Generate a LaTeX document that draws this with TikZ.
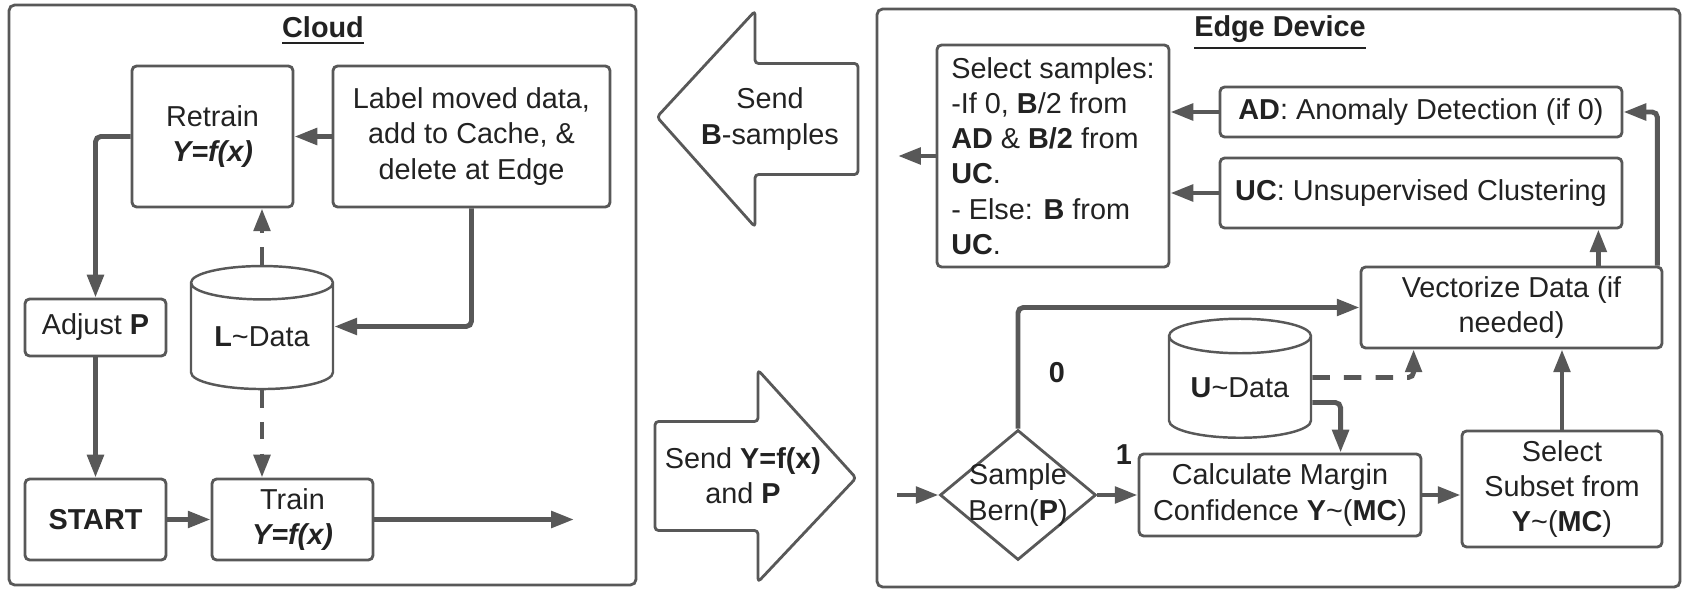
\documentclass[tikz,border=0pt]{standalone}
\usepackage{fontspec}
\setmainfont{Liberation Sans}
\usetikzlibrary{calc,shapes.geometric,arrows.meta}

\definecolor{linegray}{RGB}{88,88,88}
\definecolor{inkgray}{RGB}{34,34,34}

\begin{document}
\begin{tikzpicture}[font=\fontsize{8.2}{10}\selectfont, text=inkgray,
        box/.style={draw=linegray, line width=0.8pt, rounded corners=1.3pt, align=center, inner sep=0pt},
        frame/.style={draw=linegray, line width=0.8pt, rounded corners=1.6pt},
        db/.style={cylinder, shape border rotate=90, aspect=0.35, draw=linegray, line width=0.7pt, inner sep=0pt},
        decision/.style={diamond, draw=linegray, line width=0.8pt, inner sep=0pt},
        flow/.style={draw=linegray, line width=1.4pt, rounded corners=1.5pt, -{Triangle[length=6.5pt,width=4.6pt]}},
        dflow/.style={flow, dash pattern=on 5pt off 4pt},
        bigarrow/.style={draw=linegray, line width=0.8pt, rounded corners=1pt, line join=round}]
        \useasboundingbox (0,0) rectangle (16.82,-5.89);

        % Cloud side
        \draw [frame] (0.09,-0.05) rectangle (6.36,-5.85);
        \node (cloudtitle) at (3.23,-0.31) {\textbf{\underline{Cloud}}};
        \node (retrain) at (2.125,-1.365) [box, minimum width=1.61cm, minimum height=1.41cm] {Retrain\\\textbf{\textit{Y=f(x)}}};
        \node (label) at (4.715,-1.365) [box, minimum width=2.77cm, minimum height=1.41cm] {Label moved data,\\add to Cache, \&\\delete at Edge};
        \node (ldata) at (2.62,-3.365) [db, minimum width=1.42cm, minimum height=1.23cm] {\textbf{L}\textasciitilde Data};
        \node (adjust) at (0.955,-3.275) [box, minimum width=1.41cm, minimum height=0.57cm] {Adjust \textbf{P}};
        \node (start) at (0.955,-5.195) [box, minimum width=1.41cm, minimum height=0.81cm] {\textbf{START}};
        \node (train) at (2.925,-5.195) [box, minimum width=1.61cm, minimum height=0.81cm] {Train\\\textbf{\textit{Y=f(x)}}};
        \coordinate (trainout) at (5.74,-5.195);

        \draw [flow] (label.west) -- (retrain.east);
        \draw [flow] (retrain.west) -| (adjust.north);
        \draw [flow] (adjust) -- (start);
        \draw [flow] (start) -- (train);
        \draw [flow] (train) -- (trainout);
        \draw [flow] (label.south) |- ($(ldata.east)+(0,.1)$);
        \draw [dflow] (ldata.top) -- (ldata.top |- retrain.south);
        \draw [dflow] (ldata.bottom) -- (ldata.bottom |- train.north);

        % the two transfers
        \node (sendb) at (7.70,-1.19) [align=center] {Send\\\textbf{B}-samples};
        \draw [bigarrow] ($(sendb)+(-1.13,.02)$) -- ($(sendb)+(-.15,1.08)$) -- ($(sendb)+(-.15,.555)$) -- ($(sendb)+(.88,.555)$)
            -- ($(sendb)+(.88,-.555)$) -- ($(sendb)+(-.15,-.555)$) -- ($(sendb)+(-.15,-1.08)$) -- cycle;
        \node (sendf) at (7.43,-4.76) [align=center] {Send \textbf{Y=f(x)}\\and \textbf{P}};
        \draw [bigarrow] ($(sendf)+(1.13,-.02)$) -- ($(sendf)+(.15,1.06)$) -- ($(sendf)+(.15,.545)$) -- ($(sendf)+(-.88,.545)$)
            -- ($(sendf)+(-.88,-.545)$) -- ($(sendf)+(.15,-.545)$) -- ($(sendf)+(.15,-1.06)$) -- cycle;

        % Edge side
        \draw [frame] (8.77,-0.09) rectangle (16.80,-5.87);
        \node (edgetitle) at (12.80,-0.33) {\textbf{\underline{Edge Device}}};
        \node (samples) at (10.53,-1.56) [box, align=left, minimum width=2.32cm, minimum height=2.22cm]
            {Select samples:\\-If 0, \textbf{B}/2 from\\\textbf{AD} \& \textbf{B/2} from\\\textbf{UC}.\\- Else: \textbf{B} from\\\textbf{UC}.};
        \node (ad) at (14.21,-1.12) [box, minimum width=4.02cm, minimum height=0.50cm] {\textbf{AD}: Anomaly Detection (if 0)};
        \node (uc) at (14.21,-1.93) [box, minimum width=4.02cm, minimum height=0.70cm] {\textbf{UC}: Unsupervised Clustering};
        \node (vec) at (15.115,-3.075) [box, minimum width=3.01cm, minimum height=0.81cm] {Vectorize Data (if\\needed)};
        \node (udata) at (12.40,-3.875) [db, minimum width=1.42cm, minimum height=1.19cm] {\textbf{U}\textasciitilde Data};
        \node (bern) at (10.18,-4.95) [decision, minimum width=1.56cm, minimum height=1.30cm] {};
        \node (berntext) at (bern) [align=center] {Sample\\Bern(\textbf{P})};
        \node (calc) at (12.80,-4.95) [box, minimum width=2.82cm, minimum height=0.82cm] {Calculate Margin\\Confidence \textbf{Y}\textasciitilde(\textbf{MC})};
        \node (subset) at (15.62,-4.89) [box, minimum width=2.00cm, minimum height=1.16cm] {Select\\Subset from\\\textbf{Y}\textasciitilde(\textbf{MC})};
        \node (zero) at (10.57,-3.73) {\textbf{0}};
        \node (one) at (11.24,-4.55) {\textbf{1}};
        \coordinate (bernin) at (8.97,-4.95);
        \coordinate (samplesout) at (8.98,-1.56);
        \coordinate (vup) at ($(vec.north east)+(-.65,0)$);

        \draw [flow] (samples.west) -- (samplesout);
        \draw [flow] (ad.west) -- (ad.west -| samples.east);
        \draw [flow] (uc.west) -- (uc.west -| samples.east);
        \draw [flow] (vup) -- (vup |- uc.south);
        \draw [flow] ($(vec.north east)+(-.06,0)$) |- (ad.east);
        \draw [flow] (bernin) -- (bern.west);
        \draw [flow] (bern.north) |- (vec.west);
        \draw [flow] (bern.east) -- (calc.west);
        \draw [flow] (calc.east) -- (calc.east -| subset.west);
        \draw [flow] (subset.north) -- (subset.north |- vec.south);
        \draw [dflow] ($(udata.east)+(0,.1)$) -| ($(vec.south west)+(.54,0)$);
        \draw [flow] ($(udata.east)+(0,-.15)$) -| ($(calc.north west)+(2.03,0)$);
    \end{tikzpicture}
\end{document}
